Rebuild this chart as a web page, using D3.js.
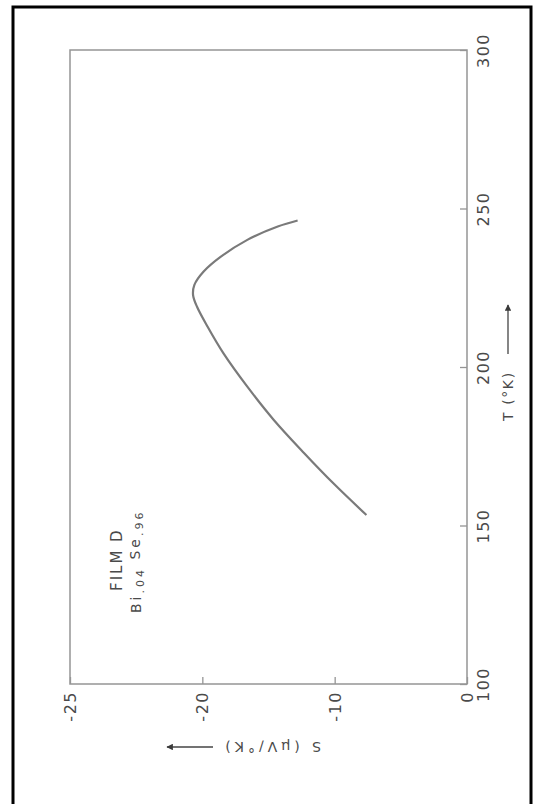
<!DOCTYPE html>
<html>
<head>
<meta charset="utf-8">
<script src="https://cdn.jsdelivr.net/npm/d3@7"></script>
<style>
  body { margin: 0; background: #fff; }
  text { font-family: "DejaVu Sans", "Liberation Sans", Arial, sans-serif; fill: #4a4a4a; }
</style>
</head>
<body>
<div id="chart"></div>
<script>
const tempTicks = [100, 150, 200, 250, 300];
const seebeckTicks = [-25, -20, -10, 0];
const tempK = [153.3, 163.3, 172.8, 183.3, 193.8, 204.3, 212.7, 219.0, 222.7, 225.9, 230.1, 234.8, 240.1, 244.3, 246.2];
const seebeck = [-7.6, -10.1, -12.3, -14.6, -16.6, -18.4, -19.6, -20.2, -20.35, -20.3, -19.9, -18.6, -16.6, -14.3, -12.8];

const width = 534;
const height = 804;
const plotLeft = 70, plotRight = 467, plotTop = 50, plotBottom = 684;

const lineColor = "#959595";

const svg = d3.select("#chart")
  .append("svg")
  .attr("width", width)
  .attr("height", height);

svg.append("defs").append("marker")
  .attr("id", "head")
  .attr("viewBox", "0 0 10 10")
  .attr("refX", 9).attr("refY", 5)
  .attr("markerWidth", 8).attr("markerHeight", 5)
  .attr("orient", "auto")
  .append("path")
  .attr("d", "M0,0 L10,5 L0,10 Z")
  .attr("fill", "#3a3a3a");

// scanned page border
svg.append("rect")
  .attr("x", 13).attr("y", 7)
  .attr("width", 518).attr("height", 810)
  .attr("fill", "none")
  .attr("stroke", "#000")
  .attr("stroke-width", 3);

// T runs up the page, S runs across (figure was turned on its side)
const yT = d3.scaleLinear().domain([100, 300]).range([plotBottom, plotTop]);
const step = (plotRight - plotLeft) / (seebeckTicks.length - 1);
const xS = d3.scaleLinear()
  .domain(seebeckTicks)
  .range(seebeckTicks.map((d, i) => plotLeft + i * step));

svg.append("rect")
  .attr("x", plotLeft).attr("y", plotTop)
  .attr("width", plotRight - plotLeft).attr("height", plotBottom - plotTop)
  .attr("fill", "none")
  .attr("stroke", lineColor)
  .attr("stroke-width", 1.5);

const tAxis = svg.append("g")
  .attr("transform", `translate(${plotRight},0)`)
  .attr("color", lineColor)
  .call(d3.axisRight(yT).tickValues(tempTicks).tickSize(-7).tickSizeOuter(0).tickFormat(d => String(d)));
tAxis.select(".domain").remove();
tAxis.selectAll("line").attr("stroke-width", 1.3);
tAxis.selectAll("text")
  .attr("x", null).attr("dy", null)
  .attr("transform", "translate(22,0) rotate(-90)")
  .attr("text-anchor", "middle")
  .style("font-size", "16px")
  .style("letter-spacing", "1.5px");

const sAxis = svg.append("g")
  .attr("transform", `translate(0,${plotBottom})`)
  .attr("color", lineColor)
  .call(d3.axisBottom(xS).tickValues(seebeckTicks).tickSize(-7).tickSizeOuter(0).tickFormat(d => String(d)));
sAxis.select(".domain").remove();
sAxis.selectAll("line").attr("stroke-width", 1.3);
sAxis.selectAll("text")
  .attr("y", null).attr("dy", "0.35em")
  .attr("transform", "translate(0,7) rotate(-90)")
  .attr("text-anchor", "end")
  .style("font-size", "16px")
  .style("letter-spacing", "1.5px");

// the curve
const points = tempK.map((t, i) => ({ t: t, s: seebeck[i] }));
svg.append("path")
  .datum(points)
  .attr("d", d3.line()
    .x(d => xS(d.s))
    .y(d => yT(d.t))
    .curve(d3.curveCatmullRom))
  .attr("fill", "none")
  .attr("stroke", "#7a7a7a")
  .attr("stroke-width", 2.2);

// sample label
svg.append("text")
  .attr("transform", "translate(122,591) rotate(-90)")
  .style("font-size", "15px")
  .style("letter-spacing", "2px")
  .text("FILM D");

const sample = svg.append("text")
  .attr("transform", "translate(141,613) rotate(-90)")
  .style("font-size", "14px")
  .style("letter-spacing", "3px");
sample.append("tspan").text("Bi");
sample.append("tspan").attr("dy", "0.3em").style("font-size", "11px").text(".04");
sample.append("tspan").attr("dy", "-0.3em").text(" Se");
sample.append("tspan").attr("dy", "0.3em").style("font-size", "11px").text(".96");

// axis titles with arrows
svg.append("text")
  .attr("transform", "translate(513,421) rotate(-90)")
  .style("font-size", "14px")
  .style("letter-spacing", "1.6px")
  .text("T (°K)");
svg.append("line")
  .attr("x1", 508).attr("y1", 354)
  .attr("x2", 508).attr("y2", 305)
  .attr("stroke", "#444").attr("stroke-width", 1.3)
  .attr("marker-end", "url(#head)");

svg.append("text")
  .attr("transform", "translate(321,742) rotate(180)")
  .style("font-size", "14px")
  .style("letter-spacing", "4px")
  .text("S (μV/°K)");
svg.append("line")
  .attr("x1", 213).attr("y1", 747)
  .attr("x2", 167).attr("y2", 747)
  .attr("stroke", "#444").attr("stroke-width", 1.3)
  .attr("marker-end", "url(#head)");
</script>
</body>
</html>
